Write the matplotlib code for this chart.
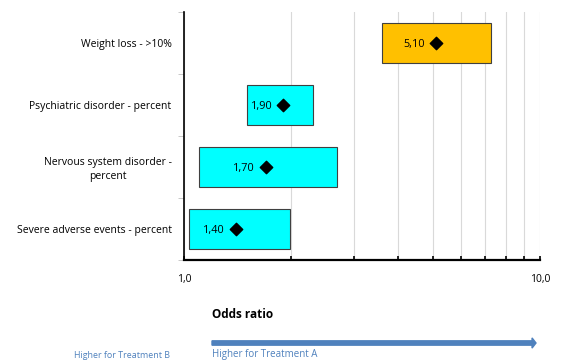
import numpy as np
import matplotlib.pyplot as plt
from matplotlib.patches import FancyArrow
from matplotlib.ticker import FixedLocator, NullFormatter

# data, bottom row first
outcomes = ["Severe adverse events - percent", "Nervous system disorder -\npercent",
            "Psychiatric disorder - percent", "Weight loss - >10%"]
odds = [1.40, 1.70, 1.90, 5.10]
ci_low = [1.03, 1.10, 1.50, 3.60]
ci_high = [1.98, 2.69, 2.30, 7.28]
bar_colors = ["#00FFFF", "#00FFFF", "#00FFFF", "#FFC000"]

plt.rcParams["font.family"] = ["Open Sans", "DejaVu Sans"]

fig = plt.figure(figsize=(5.64, 3.63), dpi=100)
ax = fig.add_axes([184 / 564, 1 - 260 / 363, 356 / 564, 248 / 363])

y = np.arange(len(outcomes))
widths = [h - l for l, h in zip(ci_low, ci_high)]
ax.barh(y, widths, left=ci_low, height=0.65, color=bar_colors,
        edgecolor="#404040", linewidth=0.8, zorder=3)
ax.scatter(odds, y, marker="D", s=40, color="black", zorder=4)
for xv, yv in zip(odds, y):
    ax.annotate(f"{xv:.2f}".replace(".", ","), (xv, yv), xytext=(-8, -1),
                textcoords="offset points", ha="right", va="center",
                fontsize=7.8, zorder=5)

ax.set_xscale("log")
ax.set_xlim(1, 10)
ax.set_ylim(-0.5, len(outcomes) - 0.5)
ax.xaxis.set_major_locator(FixedLocator([1, 10]))
ax.xaxis.set_minor_locator(FixedLocator(range(2, 10)))
ax.xaxis.set_minor_formatter(NullFormatter())
ax.set_xticklabels(["1,0", "10,0"])
ax.grid(True, which="both", axis="x", color="#d9d9d9", linewidth=0.8, zorder=0)
ax.tick_params(axis="x", which="both", direction="in", length=3, width=1.2,
               labelsize=7.5, pad=10)

ax.set_yticks(y)
ax.set_yticklabels(outcomes, fontsize=7.5, ha="right", multialignment="center",
                   linespacing=1.3)
ax.yaxis.set_minor_locator(FixedLocator(np.arange(-0.5, len(outcomes), 1)))
ax.tick_params(axis="y", which="major", length=0, pad=9)
ax.tick_params(axis="y", which="minor", length=4, color="#bfbfbf", direction="out")

for s in ["top", "right"]:
    ax.spines[s].set_visible(False)
ax.spines["left"].set_linewidth(1.2)
ax.spines["bottom"].set_linewidth(1.6)

fig.text(212 / 564, 1 - 315 / 363, "Odds ratio", fontsize=8.5, fontweight="bold",
         va="center")
fig.patches.append(FancyArrow(
    212 / 564, 1 - 343 / 363, 324 / 564, 0, width=0.012, head_width=0.028,
    head_length=0.007, length_includes_head=True, color="#4f81bd",
    transform=fig.transFigure, figure=fig))
fig.text(212 / 564, 1 - 355 / 363, "Higher for Treatment A", fontsize=7,
         color="#4f81bd", va="center")
fig.text(74 / 564, 1 - 356 / 363, "Higher for Treatment B", fontsize=6.4,
         color="#4f81bd", va="center")

fig.savefig("out.png", dpi=100)
